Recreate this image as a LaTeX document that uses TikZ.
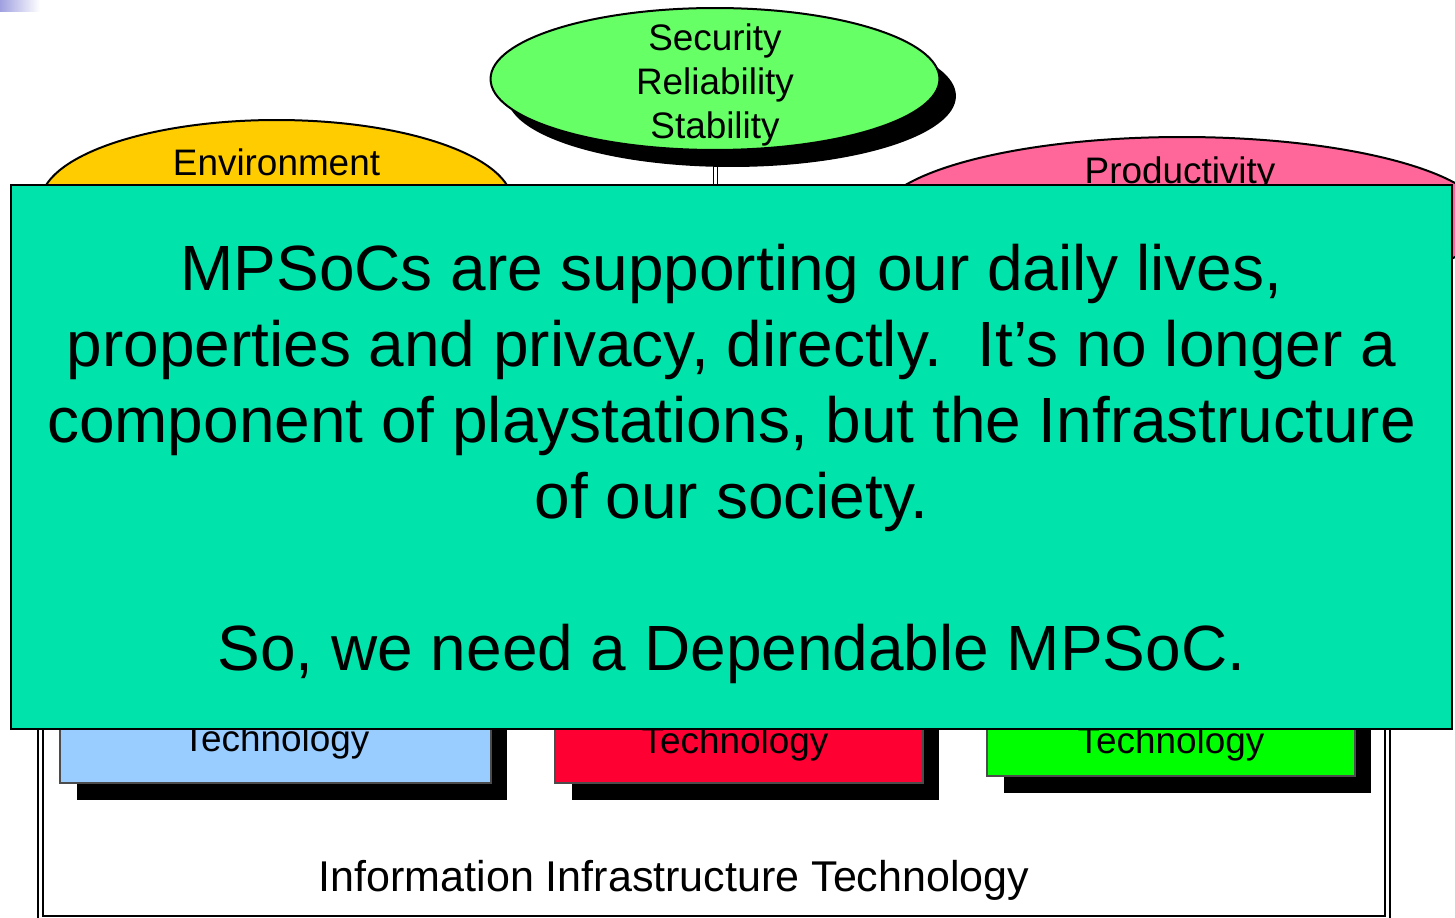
\documentclass[tikz,border=0pt]{standalone}
\usepackage{fontspec}
\setmainfont{Liberation Sans}
\usetikzlibrary{shapes.geometric,shadows}

\definecolor{envyellow}{HTML}{FFCC00}
\definecolor{secgreen}{HTML}{66FF66}
\definecolor{prodpink}{HTML}{FF6699}
\definecolor{msgteal}{HTML}{00E3AA}
\definecolor{techblue}{HTML}{99CCFF}
\definecolor{techred}{HTML}{FF0033}
\definecolor{techgreen}{HTML}{00FF00}
\definecolor{cornerblue}{HTML}{A0A0E0}

\tikzset{
  bubble/.style={ellipse, draw, line width=0.04cm, inner sep=0pt},
  bubbletext/.style={font=\fontsize{21}{24.8}\selectfont, align=center, inner sep=0pt},
  hardshadow/.style={drop shadow={shadow xshift=0.33cm, shadow yshift=-0.34cm, fill=black, opacity=1}},
  techbox/.style={rectangle, draw=black!70, line width=0.03cm, inner sep=0pt, minimum height=2.66cm, hardshadow},
  msgbox/.style={rectangle, draw, line width=0.04cm, fill=msgteal},
  msgtext/.style={align=center, inner sep=0pt, font=\fontsize{36.4}{43.2}\selectfont},
}

\begin{document}
\begin{tikzpicture}[x=0.02cm, y=-0.02cm]
    \useasboundingbox (0,0) rectangle (1455,918) ;
    \shade [left color=cornerblue, right color=white] (0,0) rectangle (40,12) ;

    % outer frame
    \draw [line width=0.03cm, double, double distance=0.07cm] (40.5,600) rectangle (1387.5,918.5) ;
    \node [font=\fontsize{24.5}{29}\selectfont, anchor=base, inner sep=0pt] (info) at (674,891) {Information Infrastructure Technology} ;

    % technology boxes
    \node [techbox, fill=techblue, minimum width=8.62cm] (blue) at (275.5,716.5) {} ;
    \node [bubbletext, anchor=base] (bluetext) at (276,752) {Technology} ;
    \node [techbox, fill=techred, minimum width=7.36cm] (red) at (739,716.5) {} ;
    \node [bubbletext, anchor=base] (redtext) at (735,754) {Technology} ;
    \node [techbox, fill=techgreen, minimum width=7.36cm] (green) at (1171,709.5) {} ;
    \node [bubbletext, anchor=base] (greentext) at (1171,754) {Technology} ;

    % bubbles
    \coordinate (stemtop) at (715.5,140) ;
    \coordinate (stemfoot) at (715.5,190) ;
    \draw [line width=0.025cm, double, double distance=0.06cm] (stemtop) -- (stemfoot) ;
    \node [bubble, fill=envyellow, minimum width=9.44cm, minimum height=3.32cm] (env) at (276.5,203) {} ;
    \node [bubbletext, anchor=base] (envtext) at (276.5,176) {Environment} ;
    \node [bubble, fill=prodpink, minimum width=12.2cm, minimum height=3.32cm] (prod) at (1182,220) {} ;
    \node [bubbletext, anchor=base] (prodtext) at (1180,184) {Productivity} ;
    \node [bubble, fill=secgreen, minimum width=8.98cm, minimum height=2.84cm, hardshadow] (sec) at (715,79) {} ;
    \node [bubbletext] (sectext) at (715,85) {Security\\Reliability\\Stability} ;

    % message
    \node [msgbox, minimum width=28.82cm, minimum height=10.88cm] (msg) at (731.5,457) {} ;
    \node [msgtext] (msgtext) at (731.5,464)
      {MPSoCs are supporting our daily lives,\\
       properties and privacy, directly.\ \ It’s no longer a\\
       component of playstations, but the Infrastructure\\
       of our society.\\[43.2pt]
       So, we need a Dependable MPSoC.} ;
\end{tikzpicture}
\end{document}
